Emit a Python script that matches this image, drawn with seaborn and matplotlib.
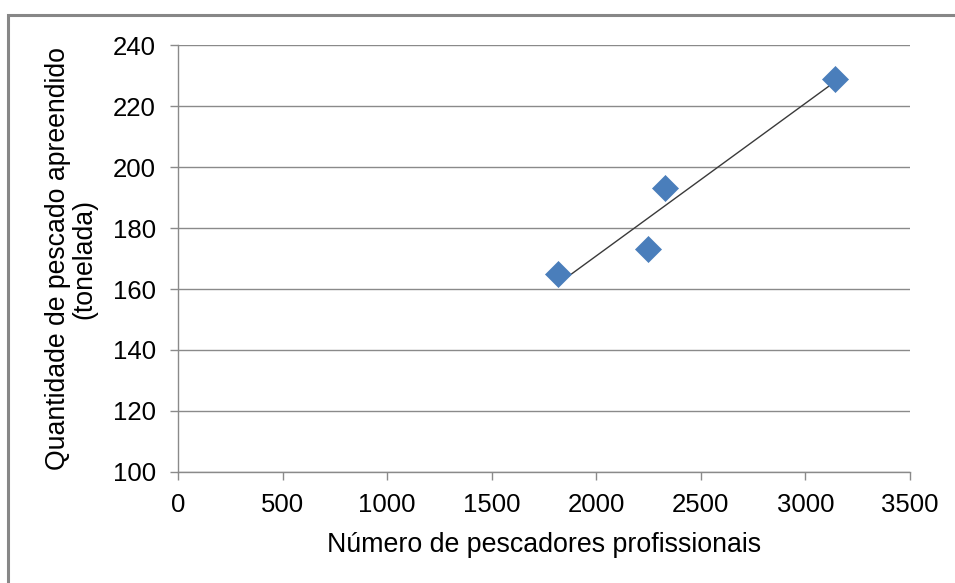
import numpy as np
import pandas as pd
import matplotlib
matplotlib.use("Agg")
import matplotlib.pyplot as plt
from matplotlib.patches import Rectangle
import seaborn as sns

# Professional fishers vs. seized catch (tonnes)
pescadores = [1815, 2245, 2330, 3140]
pescado = [165, 173, 193, 229]

x_ticks = [0, 500, 1000, 1500, 2000, 2500, 3000, 3500]
y_ticks = [100, 120, 140, 160, 180, 200, 220, 240]

df = pd.DataFrame({"pescadores": pescadores, "pescado": pescado})

sns.set_theme(style="white")
plt.rcParams["font.family"] = ["Liberation Sans", "DejaVu Sans"]

fig = plt.figure(figsize=(9.55, 5.83), dpi=100)
ax = fig.add_axes([0.1864, 0.1904, 0.9529 - 0.1864, 0.9228 - 0.1904])

# outer chart-area frame
fig.patches.append(Rectangle((8 / 955, -0.05), 1.1, 1 - 15 / 583 + 0.05,
                             transform=fig.transFigure, fill=False,
                             edgecolor="#878787", linewidth=2.2, zorder=0))

# linear trend line over the observed range
coef = np.polyfit(df["pescadores"], df["pescado"], 1)
xt = np.array([df["pescadores"].min(), df["pescadores"].max()])
trend = pd.DataFrame({"x": xt, "y": np.polyval(coef, xt)})
sns.lineplot(data=trend, x="x", y="y", ax=ax, color="#3a3a3a",
             linewidth=1.0, zorder=2)

sns.scatterplot(data=df, x="pescadores", y="pescado", ax=ax, marker="D",
                s=175, color="#4A7EBB", edgecolor="#4A7EBB", linewidth=0.5,
                zorder=3)

ax.set_xlim(0, 3500)
ax.set_ylim(100, 240)
ax.set_xticks(x_ticks)
ax.set_yticks(y_ticks)
ax.yaxis.grid(True, color="#8a8a8a", linewidth=1.0)
ax.set_axisbelow(True)

for side in ["top", "right"]:
    ax.spines[side].set_visible(False)
for side in ["left", "bottom"]:
    ax.spines[side].set_color("#8a8a8a")
    ax.spines[side].set_linewidth(1.0)

ax.tick_params(axis="both", which="major", direction="out", length=6,
               width=1.0, color="#8a8a8a", labelsize=18.5, labelcolor="black")
ax.tick_params(axis="y", pad=10)
ax.tick_params(axis="x", pad=9)
ax.tick_params(bottom=True, left=True)

ax.set_xlabel("Número de pescadores profissionais", fontsize=19.3,
              color="black", labelpad=11)
ax.set_ylabel("Quantidade de pescado apreendido\n(tonelada)", fontsize=19.2,
              color="black", labelpad=11, linespacing=1.0)

fig.savefig("out.png", dpi=100, facecolor="white")
